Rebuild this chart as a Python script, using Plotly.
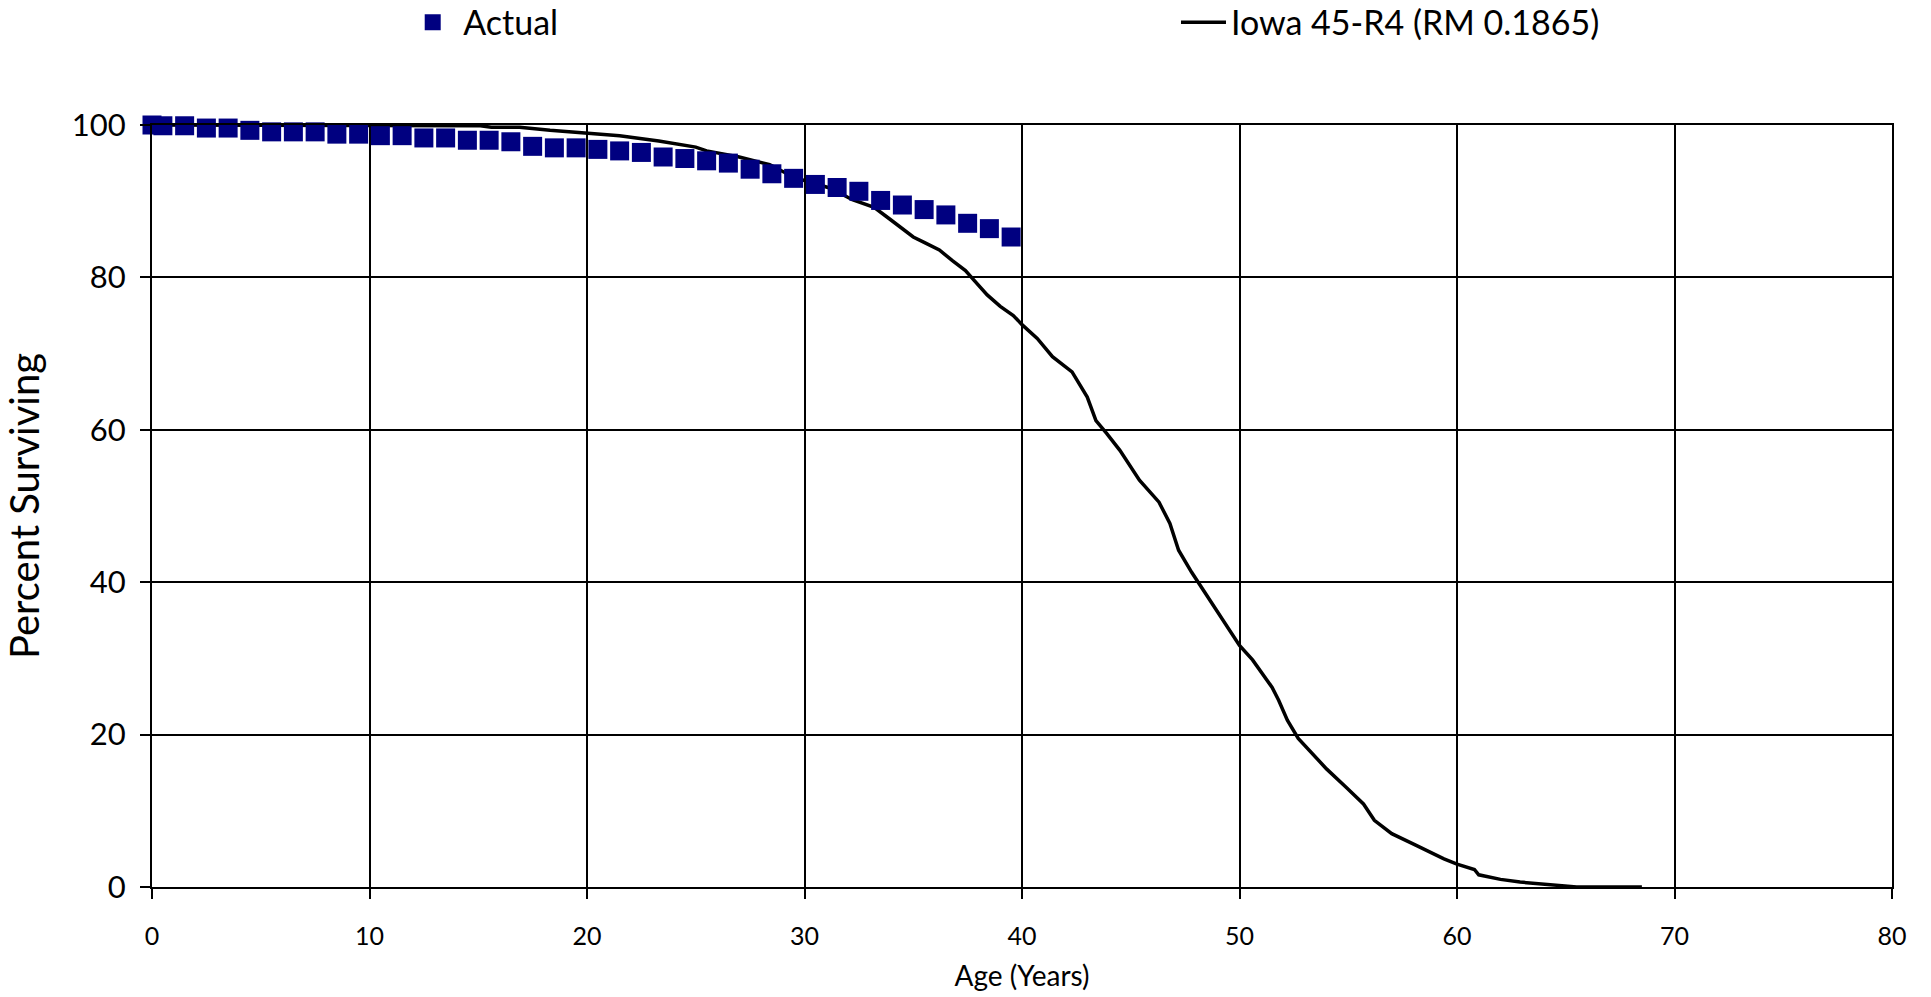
import plotly.graph_objects as go

# Actual survivor data (age in years, percent surviving)
actual_age = [0, 0.5, 1.5, 2.5, 3.5, 4.5, 5.5, 6.5, 7.5, 8.5, 9.5, 10.5, 11.5, 12.5, 13.5,
              14.5, 15.5, 16.5, 17.5, 18.5, 19.5, 20.5, 21.5, 22.5, 23.5, 24.5, 25.5, 26.5,
              27.5, 28.5, 29.5, 30.5, 31.5, 32.5, 33.5, 34.5, 35.5, 36.5, 37.5, 38.5, 39.5]
actual_pct = [100, 99.9, 99.9, 99.6, 99.6, 99.3, 99.1, 99.1, 99.1, 98.8, 98.8, 98.6, 98.6,
              98.3, 98.3, 98.0, 98.0, 97.8, 97.2, 97.0, 97.0, 96.8, 96.6, 96.4, 95.8, 95.6,
              95.3, 95.0, 94.2, 93.6, 93.0, 92.2, 91.8, 91.3, 90.1, 89.5, 88.9, 88.2, 87.1,
              86.4, 85.3]

# Iowa 45-R4 curve
iowa_age = [0, 11.1, 11.8, 15.1, 15.6, 16.9, 18.3, 20.0, 21.5, 23.3, 25.0, 25.5, 27.0, 28.4,
            29.2, 30.0, 31.2, 32.2, 33.2, 33.9, 35.0, 35.5, 36.2, 36.8, 37.4, 37.8, 38.4,
            39.0, 39.6, 40.0, 40.7, 41.4, 42.3, 43.0, 43.4, 43.9, 44.5, 45.4, 46.3, 46.8,
            47.2, 47.8, 48.5, 49.2, 50.0, 50.6, 51.5, 51.8, 52.2, 52.7, 54.0, 54.9, 55.7,
            56.2, 57.0, 58.1, 59.4, 60.0, 60.8, 61.0, 62.0, 62.9, 63.8, 64.4, 65.5, 68.5]
iowa_pct = [100, 100, 99.9, 99.9, 99.7, 99.7, 99.3, 98.9, 98.6, 97.9, 97.1, 96.6, 95.8, 94.8,
            93.6, 92.7, 91.7, 90.2, 89.2, 87.7, 85.3, 84.6, 83.6, 82.2, 80.9, 79.6, 77.7,
            76.2, 75.0, 73.8, 72.0, 69.6, 67.6, 64.3, 61.2, 59.5, 57.3, 53.4, 50.5, 47.7,
            44.2, 41.3, 38.3, 35.2, 31.7, 29.8, 26.2, 24.5, 21.9, 19.5, 15.5, 13.1, 10.9,
            8.75, 7.0, 5.5, 3.7, 3.0, 2.3, 1.6, 1.0, 0.65, 0.45, 0.22, 0, 0]

x_ticks = [0, 10, 20, 30, 40, 50, 60, 70, 80]
y_ticks = [0, 20, 40, 60, 80, 100]

FONT = "Lato"

fig = go.Figure()
fig.add_trace(go.Scatter(
    x=iowa_age, y=iowa_pct, mode="lines", name="Iowa 45-R4 (RM 0.1865)",
    line=dict(color="#000000", width=3.5), cliponaxis=False, legend="legend2",
))
fig.add_trace(go.Scatter(
    x=actual_age, y=actual_pct, mode="markers", name="Actual",
    marker=dict(symbol="square", size=19, color="#000080", line=dict(width=0)),
    cliponaxis=False, legend="legend",
))

fig.update_layout(
    width=1931, height=997,
    paper_bgcolor="white", plot_bgcolor="white",
    margin=dict(l=152, r=39, t=125, b=110, autoexpand=False),
    font=dict(family=FONT, color="#000000"),
    showlegend=True,
    legend=dict(x=0.1438, y=1.1725, xanchor="left", yanchor="top", itemwidth=51,
                orientation="h", font=dict(size=34, family=FONT), bgcolor="rgba(0,0,0,0)"),
    legend2=dict(x=0.5885, y=1.1725, xanchor="left", yanchor="top", itemwidth=45,
                 orientation="h", font=dict(size=34, family=FONT), bgcolor="rgba(0,0,0,0)"),
    xaxis=dict(
        range=[0, 80], tickvals=x_ticks, ticktext=[str(v) for v in x_ticks],
        showgrid=True, gridcolor="#000000", gridwidth=1.8,
        showline=True, linecolor="#000000", linewidth=2.2, mirror=True,
        ticks="outside", ticklen=10, tickwidth=1.8, tickcolor="#000000",
        tickfont=dict(size=25, family=FONT), ticklabelstandoff=16,
        zeroline=False,
        title=dict(text="Age (Years)", font=dict(size=28, family=FONT), standoff=17),
    ),
    yaxis=dict(
        range=[0, 100], tickvals=y_ticks, ticktext=[str(v) for v in y_ticks],
        showgrid=True, gridcolor="#000000", gridwidth=1.8,
        showline=True, linecolor="#000000", linewidth=2.2, mirror=True,
        ticks="outside", ticklen=10, tickwidth=1.8, tickcolor="#000000",
        tickfont=dict(size=31, family=FONT), ticklabelstandoff=8,
        zeroline=False,
        title=dict(text="Percent Surviving", font=dict(size=40, family=FONT), standoff=26),
    ),
)

fig.write_html("out.html", config={"displayModeBar": False},
               post_script="document.body.style.margin='0px';")
